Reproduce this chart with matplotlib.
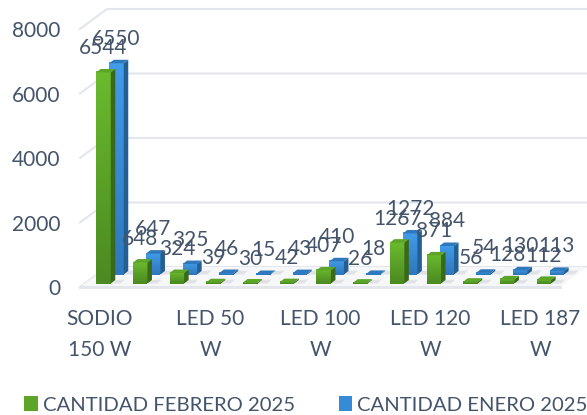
# -*- coding: utf-8 -*-
"""Barras 3D falsas: cantidad de luminarias febrero / enero 2025."""
import numpy as np
import matplotlib.pyplot as plt
from matplotlib.patches import Polygon, Patch

plt.rcParams["font.family"] = ["Lato", "DejaVu Sans"]

feb = [6544, 648, 324, 39, 30, 42, 407, 26, 1267, 871, 56, 128, 112]
ene = [6550, 647, 325, 46, 15, 43, 410, 18, 1272, 884, 54, 130, 113]
tick_pos = [0, 3, 6, 9, 12]
tick_labels = ["SODIO\n150 W", "LED 50\nW", "LED 100\nW", "LED 120\nW", "LED 187\nW"]
yticks = [0, 2000, 4000, 6000, 8000]

TXT = "#44546A"
GRID = "#E3E6EC"
W, H = 587, 415
PX_GROUP = 36.7  # px per group
PX_VAL = 258 / 8000  # px per unit


def dx(px):
    return px / PX_GROUP


def dy(px):
    return px / PX_VAL


fig = plt.figure(figsize=(W / 100, H / 100), dpi=100)
# front plane of the box: x 80-560, y 29-287 (pixels from top)
ax = fig.add_axes([80 / W, 1 - 287 / H, 480 / W, 258 / H])
ax.patch.set_alpha(0)
xlim = ((80 - 100) / PX_GROUP, (560 - 100) / PX_GROUP)
for s in ax.spines.values():
    s.set_visible(False)

# walls and floor
dpx, dpy = 27, 20
x0, x1 = xlim
for v in yticks:
    ax.plot([x0, x0 + dx(dpx), x1 + dx(dpx)], [v, v + dy(dpy), v + dy(dpy)],
            c=GRID, lw=1.5, zorder=1, clip_on=False, solid_joinstyle="miter")
ax.add_patch(Polygon([(x0, 0), (x1, 0), (x1 + dx(dpx), dy(dpy)), (x0 + dx(dpx), dy(dpy))],
                     fc="#F6F7F9", ec="none", zorder=1.5, clip_on=False))
ax.plot([x0, x1], [0, 0], c=GRID, lw=2.2, zorder=1.6, clip_on=False)


def draw_series(vals, off, lift, top_c, bot_c, side_c, cap_c, z, lab_px):
    w = dx(14.5)
    xs = np.arange(len(vals)) + dx(off)
    bars = ax.bar(xs, vals, w, bottom=dy(lift), color=bot_c, zorder=z, clip_on=False)
    grad = np.linspace(0, 1, 64)[:, None, None]
    c0 = np.array(plt.matplotlib.colors.to_rgb(top_c))
    c1 = np.array(plt.matplotlib.colors.to_rgb(bot_c))
    img = c0 * (1 - grad) + c1 * grad
    sx, sy = dx(4.5), dy(3.5)
    for x, v, b in zip(xs, vals, bars):
        l, r = x - w / 2, x + w / 2
        base = dy(lift)
        t = base + v
        # soft shadow on the floor
        ax.add_patch(Polygon([(r, base), (r + dx(10), base), (r + dx(14), base + dy(4)), (r + sx, base + sy)],
                             fc="#D9DADD", ec="none", alpha=0.7, zorder=z - 0.2, clip_on=False))
        ax.imshow(img, extent=(l, r, base, t), aspect="auto", zorder=z + 0.01, clip_on=False)
        ax.add_patch(Polygon([(r, base), (r + sx, base + sy), (r + sx, t + sy), (r, t)],
                             fc=side_c, ec="none", zorder=z + 0.02, clip_on=False))
        ax.add_patch(Polygon([(l, t), (r, t), (r + sx, t + sy), (l + sx, t + sy)],
                             fc=cap_c, ec="none", zorder=z + 0.03, clip_on=False))
        ax.annotate(str(v), (x, t), xytext=(0, lab_px * 0.72), textcoords="offset points",
                    ha="center", va="center", color=TXT, fontsize=15, zorder=20,
                    annotation_clip=False)
    return bars


draw_series(ene, 16.5, 12.5, "#429CE8", "#2F78BC", "#235F94", "#2F78BC", 3, 24.5)
draw_series(feb, 3.5, 3.5, "#6ABA2E", "#4C8A22", "#3A6A19", "#5CA528", 5, 24)

ax.set_xlim(xlim)
ax.set_ylim(0, 8000)
ax.set_yticks(yticks)
ax.set_xticks(tick_pos)
ax.set_xticklabels(tick_labels, linespacing=1.7)
ax.tick_params(axis="both", length=0, labelcolor=TXT, labelsize=15)
ax.tick_params(axis="y", pad=14)
ax.tick_params(axis="x", pad=16)

handles = [Patch(fc="#5CA528", label="CANTIDAD FEBRERO 2025"),
           Patch(fc="#368BD6", label="CANTIDAD ENERO 2025")]
fig.legend(handles=handles, ncol=2, loc="center left", bbox_to_anchor=(24 / W, 1 - 405 / H),
           frameon=False, fontsize=14.6, labelcolor=TXT, handlelength=0.68, handleheight=0.7,
           handletextpad=0.25, columnspacing=2.15, borderpad=0, borderaxespad=0)

fig.savefig("out.png", dpi=100)
